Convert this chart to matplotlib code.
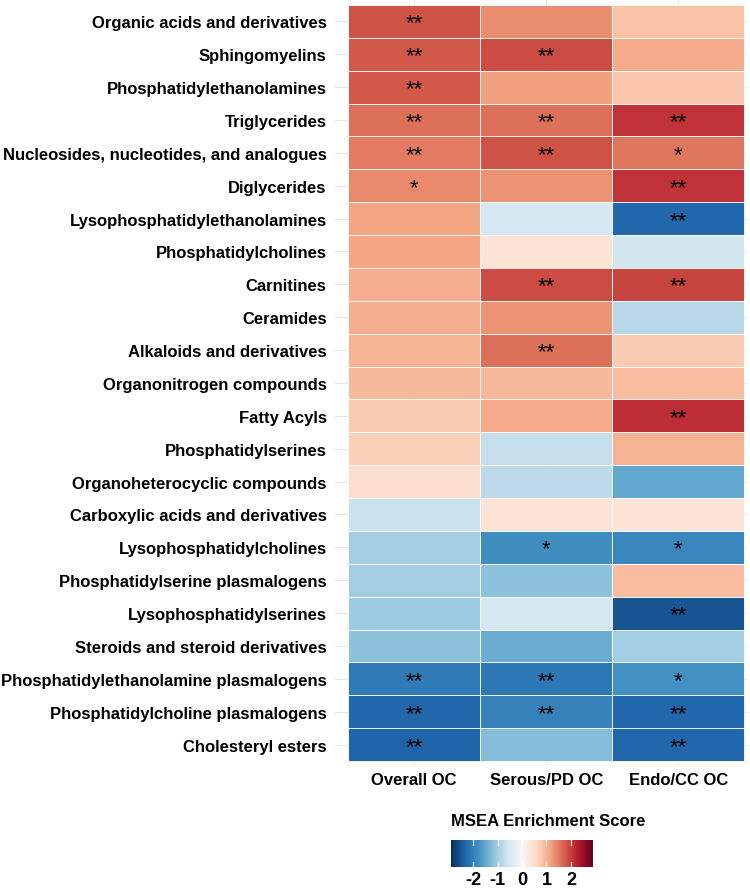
import numpy as np
import matplotlib.pyplot as plt
from matplotlib.colors import Normalize

plt.rcParams['font.family'] = ['Liberation Sans', 'DejaVu Sans']

classes = ["Organic acids and derivatives", "Sphingomyelins", "Phosphatidylethanolamines",
           "Triglycerides", "Nucleosides, nucleotides, and analogues", "Diglycerides",
           "Lysophosphatidylethanolamines", "Phosphatidylcholines", "Carnitines", "Ceramides",
           "Alkaloids and derivatives", "Organonitrogen compounds", "Fatty Acyls",
           "Phosphatidylserines", "Organoheterocyclic compounds", "Carboxylic acids and derivatives",
           "Lysophosphatidylcholines", "Phosphatidylserine plasmalogens", "Lysophosphatidylserines",
           "Steroids and steroid derivatives", "Phosphatidylethanolamine plasmalogens",
           "Phosphatidylcholine plasmalogens", "Cholesteryl esters"]
groups = ["Overall OC", "Serous/PD OC", "Endo/CC OC"]

overall = [1.85, 1.8, 1.8, 1.6, 1.5, 1.4, 1.15, 1.15, 1.05, 1.05, 1.0, 0.95, 0.75,
           0.7, 0.5, -0.65, -1.0, -1.0, -1.05, -1.2, -2.05, -2.3, -2.35]
serous = [1.35, 1.9, 1.2, 1.6, 1.85, 1.3, -0.5, 0.4, 1.9, 1.3, 1.6, 0.95, 1.1,
          -0.7, -0.75, 0.4, -1.8, -1.2, -0.5, -1.45, -2.1, -1.95, -1.25]
endo = [0.85, 1.1, 0.8, 2.1, 1.55, 2.1, -2.3, -0.55, 1.95, -0.8, 0.75, 0.9, 2.15,
        1.0, -1.5, 0.4, -1.9, 0.9, -2.5, -1.0, -1.75, -2.3, -2.3]

sig_overall = ["**", "**", "**", "**", "**", "*", "", "", "", "", "", "", "",
               "", "", "", "", "", "", "", "**", "**", "**"]
sig_serous = ["", "**", "", "**", "**", "", "", "", "**", "", "**", "", "",
              "", "", "", "*", "", "", "", "**", "**", ""]
sig_endo = ["", "", "", "**", "*", "**", "**", "", "**", "", "", "", "**",
            "", "", "", "*", "", "**", "", "*", "**", "**"]

vals = np.array([overall, serous, endo]).T
sigs = np.array([sig_overall, sig_serous, sig_endo]).T
norm = Normalize(-2.9, 2.9)
cmap = plt.get_cmap('RdBu_r')

fig = plt.figure(figsize=(7.5, 8.95), dpi=100)
# panel spans a bit wider than the tiles, like ggplot
ax = fig.add_axes([335 / 750, 1 - 766 / 895, 412 / 750, 765 / 895])
n = len(classes)
ax.set_xlim(-0.6, 2.52)
ax.set_ylim(n - 0.5 + 0.12, -0.5 - 0.15)
ax.set_axisbelow(True)
ax.grid(True, color='#e6e6e6', linewidth=0.8)
for i in range(n):
    for j in range(3):
        ax.add_patch(plt.Rectangle((j - 0.5, i - 0.5), 1, 1, facecolor=cmap(norm(vals[i, j])),
                                   edgecolor='white', linewidth=0.6, zorder=2))
        if sigs[i, j]:
            ax.text(j, i + 0.05, sigs[i, j], ha='center', va='center', fontsize=16,
                    color='black', zorder=3)

ax.set_xticks(range(3))
ax.set_xticklabels(groups, fontsize=12, fontweight='bold')
ax.set_yticks(range(n))
ax.set_yticklabels(classes, fontsize=12, fontweight='bold')
ax.tick_params(axis='x', length=0, pad=5)
ax.tick_params(axis='y', length=0, pad=6)
for s in ax.spines.values():
    s.set_visible(False)

cax = fig.add_axes([451 / 750, 1 - 868 / 895, 142 / 750, 27 / 895])
grad = np.linspace(-2.9, 2.9, 256).reshape(1, -1)
cax.imshow(grad, aspect='auto', cmap=cmap, norm=norm, extent=[-2.9, 2.9, 0, 1])
for t in [-2, -1, 0, 1, 2]:
    cax.plot([t, t], [0, 0.2], color='white', lw=0.8)
    cax.plot([t, t], [0.8, 1], color='white', lw=0.8)
cax.set_xlim(-2.9, 2.9)
cax.set_ylim(0, 1)
cax.set_yticks([])
cax.set_xticks([-2, -1, 0, 1, 2])
cax.set_xticklabels(['-2', '-1', '0', '1', '2'], fontsize=13, fontweight='bold')
cax.tick_params(length=0, pad=3)
for s in cax.spines.values():
    s.set_visible(False)
fig.text(451 / 750, 1 - 822 / 895, "MSEA Enrichment Score", fontsize=12, fontweight='bold',
         ha='left', va='center')

fig.savefig('out.png', dpi=100)
